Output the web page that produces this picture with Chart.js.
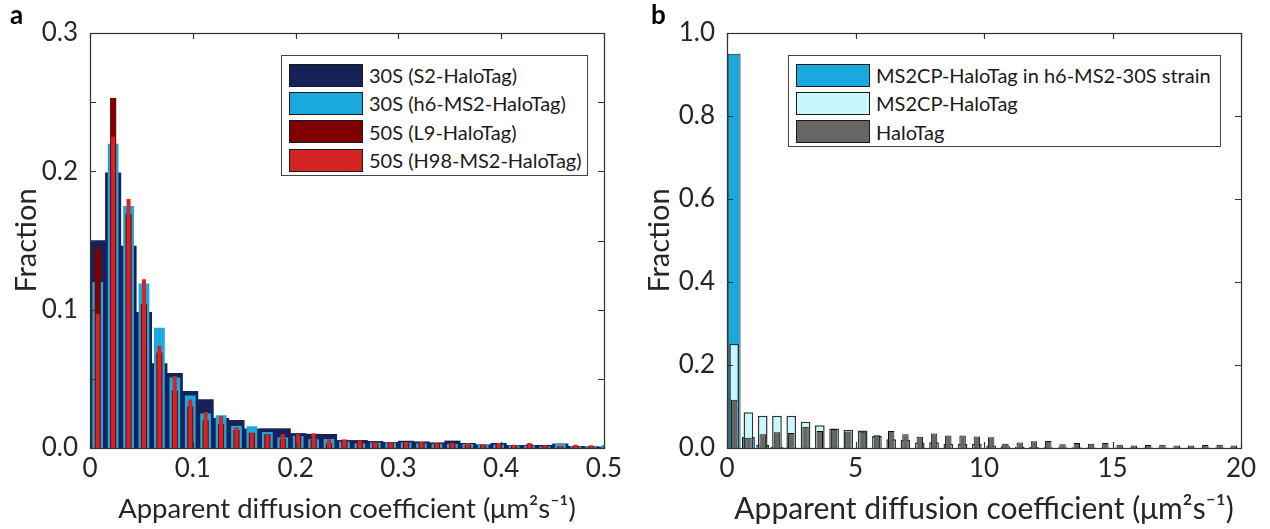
<!DOCTYPE html>
<html>
<head>
<meta charset="utf-8">
<script src="https://cdn.jsdelivr.net/npm/chart.js@4.4.1/dist/chart.umd.min.js"></script>
<style>
  body { margin: 0; background: #fff; font-family: Lato, sans-serif; }
  #wrap { position: relative; width: 1270px; height: 529px; overflow: hidden; }
  .panel { position: absolute; top: 0; width: 635px; height: 529px; }
  .tag { position: absolute; top: -2px; font: bold 26px Lato, sans-serif; color: #000; }
  .legend { position: absolute; border: 1px solid #444; background: #fff; box-sizing: border-box; padding: 5px 0 0 7px; }
  .row { display: flex; align-items: center; height: 28.3px; }
  .sw { width: 72px; height: 21px; border: 1px solid #1a1a1a; margin-right: 6px; flex: none; }
  .lbl { font: 20px Lato, sans-serif; color: #1a1a1a; white-space: nowrap; }
</style>
</head>
<body>
<div id="wrap">
  <canvas id="chartA" class="panel" style="left:0" width="635" height="529"></canvas>
  <canvas id="chartB" class="panel" style="left:635px" width="635" height="529"></canvas>
  <div class="tag" style="left:10px">a</div>
  <div class="tag" style="left:651px">b</div>
  <div id="legA" class="legend" style="left:281px;top:55px;width:307px;height:121px"></div>
  <div id="legB" class="legend" style="left:788px;top:55px;width:433px;height:92px"></div>
</div>
<script>
// panel a: bin centres (um^2/s), bin width 0.015
const binsA = [0.0075, 0.0225, 0.0375, 0.0525, 0.0675, 0.0825, 0.0975, 0.1125, 0.1275, 0.1425,
  0.1575, 0.1725, 0.1875, 0.2025, 0.2175, 0.2325, 0.2475, 0.2625, 0.2775, 0.2925,
  0.3075, 0.3225, 0.3375, 0.3525, 0.3675, 0.3825, 0.3975, 0.4125, 0.4275, 0.4425,
  0.4575, 0.4725, 0.4875, 0.5025];
const s2 = [0.150, 0.199, 0.146, 0.098, 0.061, 0.054, 0.041, 0.035, 0.0215, 0.020,
  0.0138, 0.014, 0.014, 0.0105, 0.010, 0.0099, 0.0055, 0.0055, 0.0048, 0.0041,
  0.005, 0.0045, 0.0038, 0.0051, 0.0034, 0.0024, 0.0034, 0.0019, 0.0019, 0.002,
  0.003, 0.0012, 0.001, 0.0007];
const h6 = [0.120, 0.220, 0.175, 0.119, 0.087, 0.051, 0.038, 0.025, 0.0237, 0.016,
  0.0157, 0.0116, 0.0077, 0.0087, 0.0063, 0.0065, 0.0046, 0.0034, 0.004, 0.004,
  0.004, 0.0034, 0.003, 0.003, 0.0029, 0.0029, 0.0024, 0.0017, 0.0017, 0.0012,
  0.003, 0.0012, 0.001, 0.002];
const l9 = [0.144, 0.253, 0.169, 0.104, 0.069, 0.0415, 0.030, 0.020, 0.0174, 0.013,
  0.011, 0.010, 0.0067, 0.0087, 0.006, 0.0034, 0.006, 0.0055, 0.004, 0.004,
  0.004, 0.0043, 0.0035, 0.0029, 0.0024, 0.0024, 0.0036, 0.0017, 0.003, 0.002,
  0.0012, 0.0017, 0.0012, 0.0005];
const h98 = [0.097, 0.225, 0.180, 0.122, 0.074, 0.052, 0.035, 0.026, 0.023, 0.015,
  0.011, 0.010, 0.010, 0.0099, 0.0106, 0.0063, 0.006, 0.0055, 0.004, 0.004,
  0.0043, 0.0043, 0.0035, 0.0036, 0.0036, 0.0024, 0.0036, 0.0024, 0.0036, 0.002,
  0.0017, 0.0024, 0.002, 0.0008];

// panel b: 36 bins over 0-20
const binsB = [0.278, 0.833, 1.389, 1.944, 2.5, 3.056, 3.611, 4.167, 4.722, 5.278,
  5.833, 6.389, 6.944, 7.5, 8.056, 8.611, 9.167, 9.722, 10.278, 10.833,
  11.389, 11.944, 12.5, 13.056, 13.611, 14.167, 14.722, 15.278, 15.833, 16.389,
  16.944, 17.5, 18.056, 18.611, 19.167, 19.722];
const ms2InStrain = [0.950, 0.027, 0.007, 0.003, 0.001, 0, 0, 0, 0, 0,
  0, 0, 0, 0, 0, 0, 0, 0, 0, 0, 0, 0, 0, 0, 0, 0, 0, 0, 0, 0, 0, 0, 0, 0, 0, 0];
const ms2cp = [0.251, 0.086, 0.078, 0.078, 0.078, 0.063, 0.055, 0.047, 0.044, 0.042,
  0.029, 0.021, 0.020, 0.013, 0.014, 0.010, 0.010, 0.010, 0.006, 0.004,
  0.003, 0.003, 0.002, 0.002, 0.002, 0.001, 0.001, 0.001, 0.001, 0.001,
  0.001, 0.001, 0.001, 0.001, 0.001, 0.001];
const haloTag = [0.116, 0.025, 0.033, 0.038, 0.036, 0.051, 0.041, 0.046, 0.040, 0.039,
  0.031, 0.041, 0.033, 0.027, 0.035, 0.030, 0.030, 0.028, 0.026, 0.010,
  0.013, 0.016, 0.017, 0.009, 0.012, 0.010, 0.012, 0.008, 0.006, 0.007,
  0.008, 0.006, 0.006, 0.007, 0.008, 0.006];

const xTitle = 'Apparent diffusion coefficient (μm²s⁻¹)';
const axisColor = '#333333';

Chart.defaults.font.family = 'Lato';
Chart.defaults.color = '#262626';

// MATLAB style box with ticks pointing inwards
const boxTicks = {
  id: 'boxTicks',
  afterDatasetsDraw(chart) {
    const { ctx, chartArea: a, scales: { x, y } } = chart;
    const len = 6;
    ctx.save();
    ctx.strokeStyle = axisColor;
    ctx.lineWidth = 1.2;
    ctx.beginPath();
    x.ticks.forEach(t => {
      const px = Math.round(x.getPixelForValue(t.value)) + 0.5;
      ctx.moveTo(px, a.bottom); ctx.lineTo(px, a.bottom - len);
      ctx.moveTo(px, a.top); ctx.lineTo(px, a.top + len);
    });
    y.ticks.forEach(t => {
      const py = Math.round(y.getPixelForValue(t.value)) + 0.5;
      ctx.moveTo(a.left, py); ctx.lineTo(a.left + len, py);
      ctx.moveTo(a.right, py); ctx.lineTo(a.right - len, py);
    });
    ctx.stroke();
    ctx.strokeRect(a.left + 0.5, a.top + 0.5, a.right - a.left, a.bottom - a.top);
    ctx.restore();
  }
};

function series(bins, vals) {
  return bins.map((x, i) => ({ x: x, y: vals[i] }));
}

function makeChart(id, datasets, xOpt, yOpt, leftW, titles) {
  return new Chart(document.getElementById(id), {
    type: 'bar',
    data: { datasets: datasets },
    options: {
      responsive: false,
      animation: false,
      layout: { padding: { left: 0, top: 33, right: 635 - leftW - 514, bottom: 0 } },
      plugins: { legend: { display: false }, tooltip: { enabled: false } },
      scales: {
        x: Object.assign({
          type: 'linear',
          offset: false,
          grid: { display: false, drawTicks: false },
          border: { display: false },
          title: { display: true, text: xTitle, font: { size: titles.x }, padding: { top: 0, bottom: titles.xPad } },
          afterFit: s => { s.height = 81; }
        }, xOpt),
        y: Object.assign({
          grid: { display: false, drawTicks: false },
          border: { display: false },
          title: { display: true, text: 'Fraction', font: { size: titles.y }, padding: { top: titles.yPad, bottom: 0 } },
          afterFit: s => { s.width = leftW; }
        }, yOpt)
      }
    },
    plugins: [boxTicks]
  });
}

const tickFont = { size: 26 };

// panel a: first dataset is drawn on top
const dsA = [
  { label: '50S (H98-MS2-HaloTag)', data: series(binsA, h98), backgroundColor: '#d42525', barPercentage: 0.26 },
  { label: '50S (L9-HaloTag)', data: series(binsA, l9), backgroundColor: '#800000', barPercentage: 0.4 },
  { label: '30S (h6-MS2-HaloTag)', data: series(binsA, h6), backgroundColor: '#1ba8de', barPercentage: 0.7 },
  { label: '30S (S2-HaloTag)', data: series(binsA, s2), backgroundColor: '#142257', barPercentage: 1.0 }
];
dsA.forEach(d => { d.categoryPercentage = 1; d.grouped = false; d.borderWidth = 0; });

makeChart('chartA', dsA,
  { min: 0, max: 0.5, ticks: { stepSize: 0.1, padding: 5, font: tickFont, callback: v => v === 0 ? '0' : v.toFixed(1) } },
  { min: 0, max: 0.3, ticks: { stepSize: 0.05, padding: 12, font: tickFont,
      callback: v => Math.round(v * 100) % 10 === 0 ? v.toFixed(1) : '' } },
  90, { x: 27.5, xPad: 3, y: 29, yPad: 9 });

const dsB = [
  { label: 'HaloTag', data: series(binsB, haloTag), backgroundColor: '#666666', borderColor: '#111111', borderWidth: 1, barPercentage: 0.45 },
  { label: 'MS2CP-HaloTag', data: series(binsB, ms2cp), backgroundColor: '#c8f7fc', borderColor: '#333333', borderWidth: 1.5, barPercentage: 0.68 },
  { label: 'MS2CP-HaloTag in h6-MS2-30S strain', data: series(binsB, ms2InStrain), backgroundColor: '#1aa9dc', borderColor: '#111111', borderWidth: 1, barPercentage: 0.9 }
];
dsB.forEach(d => { d.categoryPercentage = 1; d.grouped = false; d.borderSkipped = 'start'; });

makeChart('chartB', dsB,
  { min: 0, max: 20, ticks: { stepSize: 5, padding: 5, font: tickFont } },
  { min: 0, max: 1, ticks: { stepSize: 0.2, padding: 12, font: tickFont, callback: v => v.toFixed(1) } },
  92, { x: 30, xPad: 2, y: 29, yPad: 7 });

// legends, listed top to bottom as in the figure
function legend(id, items) {
  const box = document.getElementById(id);
  items.forEach(d => {
    const row = document.createElement('div');
    row.className = 'row';
    const sw = document.createElement('div');
    sw.className = 'sw';
    sw.style.background = d.backgroundColor;
    const lbl = document.createElement('span');
    lbl.className = 'lbl';
    lbl.textContent = d.label;
    row.appendChild(sw);
    row.appendChild(lbl);
    box.appendChild(row);
  });
}
legend('legA', dsA.slice().reverse());
legend('legB', dsB.slice().reverse());
</script>
</body>
</html>
